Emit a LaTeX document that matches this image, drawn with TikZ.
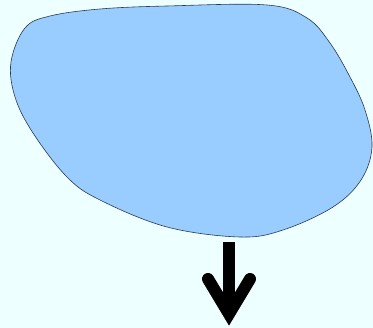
\documentclass[tikz,border=0pt]{standalone}
\usetikzlibrary{calc}
\definecolor{bgcol}{HTML}{EEFFFF}
\definecolor{blobfill}{HTML}{99CCFF}
\definecolor{blobline}{HTML}{2A3A50}
\tikzset{
  blob/.style={fill=blobfill, draw=blobline, line width=0.6pt},
  bigarrow/.style={line width=12pt, black},
}
\begin{document}
\begin{tikzpicture}[x=1pt,y=-1pt]
\fill[bgcol] (0,0) rectangle (373,328);
\useasboundingbox (0,0) rectangle (373,328);
\draw[blob] plot[smooth cycle, tension=0.6] coordinates {
  (11,62) (15,97) (33,133) (67,177) (100,200) (167,227) (240,237) (283,230)
  (333,207) (361,180) (372,147) (365,110) (350,77) (330,43) (307,18) (267,5) (167,6) (100,9) (50,16) (25,28)};
\coordinate (s) at (229,242);
\coordinate (v) at (229,314);
\coordinate (l) at (208,279);
\coordinate (r) at (250,279);
\draw[bigarrow, line cap=butt] (s) -- (v);
\draw[bigarrow, line cap=round, line join=miter] (l) -- (v) -- (r);
\end{tikzpicture}
\end{document}
